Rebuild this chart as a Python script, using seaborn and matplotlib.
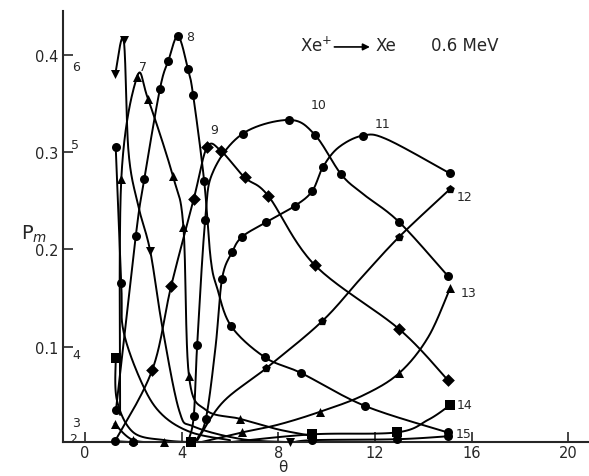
import numpy as np
import matplotlib
matplotlib.use('Agg')
import matplotlib.pyplot as plt
import seaborn as sns
import pandas as pd

# values: theta, P_m, and 1 where the curve carries a symbol
th2 = [1.22, 2.0, 3.3]
p2 = [0.003, 0.002, 0.001]
mk2 = [1, 1, 0]
th3 = [1.22, 2.0, 3.27]
p3 = [0.021, 0.004, 0.002]
mk3 = [1, 1, 1]
th4 = [1.27, 1.32, 2.0, 3.3, 4.4]
p4 = [0.088, 0.045, 0.012, 0.004, 0.002]
mk4 = [1, 0, 0, 0, 1]
th5 = [1.27, 1.5, 1.6, 2.4, 3.2, 4.4, 6.0]
p5 = [0.305, 0.165, 0.115, 0.060, 0.030, 0.012, 0.004]
mk5 = [1, 1, 0, 0, 0, 0, 0]
th6 = [1.25, 1.6, 1.8, 2.2, 2.7, 3.2, 3.9, 4.5, 6.5, 8.5]
p6 = [0.380, 0.415, 0.300, 0.245, 0.198, 0.120, 0.034, 0.018, 0.005, 0.002]
mk6 = [1, 1, 0, 0, 1, 0, 0, 0, 0, 1]
th7 = [1.45, 1.5, 2.15, 2.6, 3.64, 4.07, 4.3, 5.0, 6.4, 8.0, 9.5]
p7 = [0.030, 0.272, 0.377, 0.355, 0.275, 0.223, 0.070, 0.035, 0.026, 0.015, 0.008]
mk7 = [0, 1, 1, 1, 1, 1, 1, 0, 1, 0, 0]
th8 = [1.28, 2.1, 2.45, 3.1, 3.45, 3.85, 4.26, 4.47, 4.93, 5.2, 5.47, 6.05, 7.45, 8.94, 11.6, 15.0]
p8 = [0.035, 0.214, 0.272, 0.365, 0.394, 0.419, 0.385, 0.359, 0.270, 0.190, 0.160, 0.121,
      0.089, 0.073, 0.039, 0.012]
mk8 = [1, 1, 1, 1, 1, 1, 1, 1, 1, 0, 0, 1, 1, 1, 1, 1]
th9 = [1.22, 2.78, 3.56, 4.5, 5.05, 5.63, 6.6, 7.58, 9.5, 13.0, 15.0]
p9 = [0.002, 0.076, 0.162, 0.252, 0.305, 0.301, 0.274, 0.255, 0.184, 0.118, 0.066]
mk9 = [0, 1, 1, 1, 1, 1, 1, 1, 1, 1, 1]
th10 = [4.3, 4.5, 4.64, 4.97, 5.3, 6.53, 8.45, 9.5, 10.6, 11.5, 13.0, 15.0]
p10 = [0.005, 0.029, 0.102, 0.230, 0.280, 0.319, 0.333, 0.318, 0.277, 0.257, 0.228, 0.173]
mk10 = [0, 1, 1, 1, 0, 1, 1, 1, 1, 0, 1, 1]
th11 = [4.6, 5.0, 5.4, 5.67, 6.08, 6.5, 7.5, 8.7, 9.4, 9.85, 10.5, 11.5, 12.5, 15.1]
p11 = [0.004, 0.026, 0.100, 0.170, 0.197, 0.213, 0.228, 0.245, 0.260, 0.285, 0.305, 0.317,
       0.313, 0.278]
mk11 = [0, 1, 0, 1, 1, 1, 1, 1, 1, 1, 0, 1, 0, 1]
th12 = [4.6, 5.7, 7.5, 9.8, 11.4, 13.0, 15.1]
p12 = [0.002, 0.043, 0.078, 0.126, 0.170, 0.213, 0.262]
mk12 = [0, 0, 1, 1, 0, 1, 1]
th13 = [4.8, 6.5, 8.0, 9.7, 11.5, 13.0, 14.2, 15.1]
p13 = [0.002, 0.012, 0.020, 0.033, 0.050, 0.073, 0.110, 0.160]
mk13 = [0, 1, 0, 1, 0, 1, 0, 1]
th14 = [6.0, 9.4, 12.9, 14.2, 15.1]
p14 = [0.002, 0.010, 0.012, 0.025, 0.040]
mk14 = [0, 1, 1, 0, 1]
th15 = [8.5, 9.4, 12.9, 15.0]
p15 = [0.001, 0.004, 0.005, 0.008]
mk15 = [0, 1, 1, 1]

curves = {2: (th2, p2, mk2), 3: (th3, p3, mk3), 4: (th4, p4, mk4), 5: (th5, p5, mk5),
          6: (th6, p6, mk6), 7: (th7, p7, mk7), 8: (th8, p8, mk8), 9: (th9, p9, mk9),
          10: (th10, p10, mk10), 11: (th11, p11, mk11), 12: (th12, p12, mk12),
          13: (th13, p13, mk13), 14: (th14, p14, mk14), 15: (th15, p15, mk15)}
markers = {2: 'o', 3: '^', 4: 's', 5: 'o', 6: 'v', 7: '^', 8: 'o', 9: 'D',
           10: 'o', 11: 'o', 12: 'p', 13: '^', 14: 's', 15: 'o'}

# where each m is written
lab_pos = {2: (-0.5, 0.006), 3: (-0.37, 0.022), 4: (-0.37, 0.092), 5: (-0.41, 0.308),
           6: (-0.37, 0.388), 7: (2.4, 0.388), 8: (4.35, 0.419), 9: (5.34, 0.323),
           10: (9.65, 0.349), 11: (12.3, 0.329), 12: (15.7, 0.254), 13: (15.85, 0.156),
           14: (15.7, 0.041), 15: (15.65, 0.011)}


def smooth(xs, ys, n=24):
    # Catmull-Rom through the points, done in roughly pixel-scaled space
    sx, sy = 24.15, 973.0
    P = np.column_stack([np.asarray(xs) * sx, np.asarray(ys) * sy])
    P = np.vstack([P[0], P, P[-1]])
    out = []
    for i in range(1, len(P) - 2):
        p0, p1, q2, q3 = P[i - 1], P[i], P[i + 1], P[i + 2]
        t = np.linspace(0, 1, n, endpoint=False)[:, None]
        seg = 0.5 * ((2 * p1) + (-p0 + q2) * t + (2 * p0 - 5 * p1 + 4 * q2 - q3) * t ** 2
                     + (-p0 + 3 * p1 - 3 * q2 + q3) * t ** 3)
        out.append(seg)
    out.append(P[-2][None, :])
    out = np.vstack(out)
    return out[:, 0] / sx, np.clip(out[:, 1] / sy, 0.0, None)


sns.set_style('ticks')
plt.rcParams['font.family'] = ['DejaVu Sans']

fig = plt.figure(figsize=(5.89, 4.77), dpi=100)
ax = fig.add_axes([0.107, 0.071, 0.891, 0.904])

for m, (th, p, mk) in curves.items():
    x, y = smooth(th, p)
    line_df = pd.DataFrame({'theta': x, 'P': y})
    sns.lineplot(data=line_df, x='theta', y='P', sort=False, color='black', lw=1.4,
                 estimator=None, ax=ax)
    pts = pd.DataFrame({'theta': th, 'P': p, 'mk': mk})
    pts = pts[pts['mk'] == 1]
    sns.scatterplot(data=pts, x='theta', y='P', marker=markers[m], color='black',
                    s=42, edgecolor='black', linewidth=0, ax=ax, zorder=3, clip_on=False)
    lx, ly = lab_pos[m]
    ax.text(lx, ly, str(m), fontsize=9, ha='center', va='center')

ax.text(8.9, 0.41, 'Xe$^{+}$', fontsize=12, ha='left', va='center')
ax.annotate('', xy=(11.9, 0.408), xytext=(10.2, 0.408),
            arrowprops=dict(arrowstyle='-|>', color='black', lw=1.2))
ax.text(12.0, 0.41, 'Xe', fontsize=12, ha='left', va='center')
ax.text(14.3, 0.41, '0.6 MeV', fontsize=12, ha='left', va='center')

ax.set_xlim(-0.91, 20.8)
ax.set_ylim(0.002, 0.445)
ax.set_xticks([0, 4, 8, 12, 16, 20])
ax.set_yticks([0.1, 0.2, 0.3, 0.4])
ax.set_yticklabels(['0.1', '0.2', '0.3', '0.4'])
ax.tick_params(direction='in', length=7, width=1.2, labelsize=10.5)
ax.tick_params(axis='x', pad=2)
ax.set_xlabel('θ', fontsize=11)
ax.xaxis.set_label_coords((283 - 63) / 525, -0.04)
ax.set_ylabel('P$_m$', fontsize=14, rotation=0)
ax.yaxis.set_label_coords(-0.055, 0.46)
sns.despine(ax=ax)
for s in ['left', 'bottom']:
    ax.spines[s].set_linewidth(1.5)

fig.savefig('out.png', dpi=100)
